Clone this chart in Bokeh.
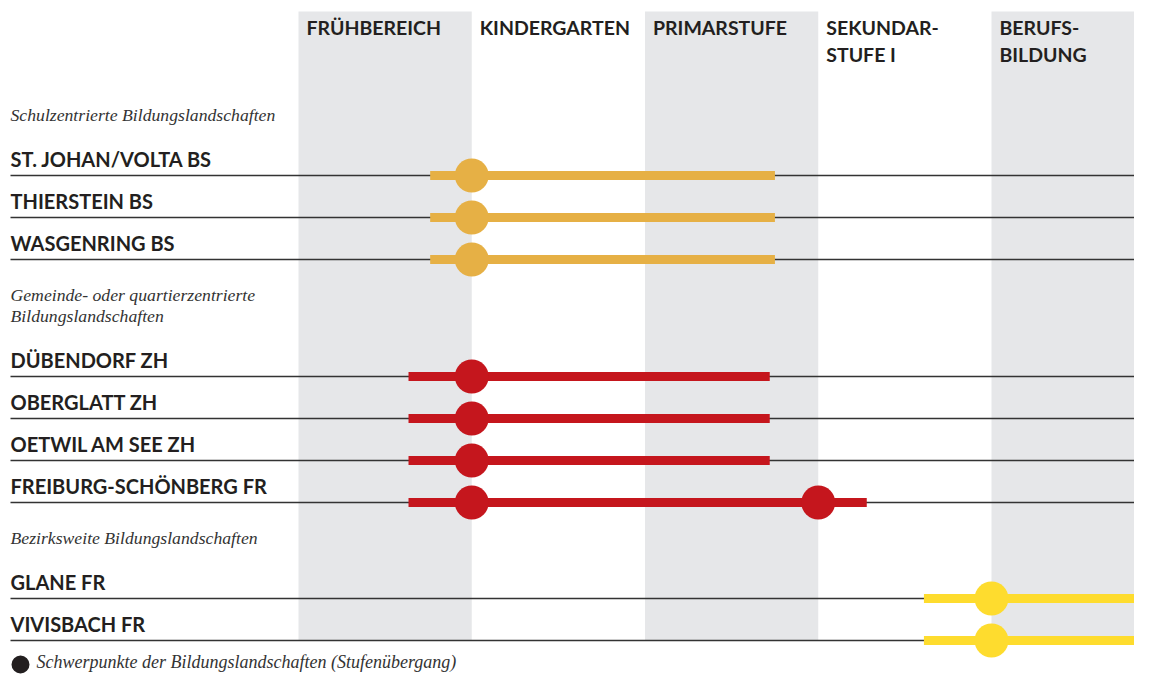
from bokeh.plotting import figure
from bokeh.models import Range1d
from bokeh.core.properties import value
from bokeh.embed import file_html
from bokeh.resources import INLINE

# ---------------- data ----------------
stage_line1 = ["FRÜHBEREICH", "KINDERGARTEN", "PRIMARSTUFE", "SEKUNDAR-", "BERUFS-"]
stage_line2 = ["", "", "", "STUFE I", "BILDUNG"]

group_titles = [
    ["Schulzentrierte Bildungslandschaften"],
    ["Gemeinde- oder quartierzentrierte", "Bildungslandschaften"],
    ["Bezirksweite Bildungslandschaften"],
]
row_names = ["ST. JOHAN/VOLTA BS", "THIERSTEIN BS", "WASGENRING BS",
             "DÜBENDORF ZH", "OBERGLATT ZH", "OETWIL AM SEE ZH", "FREIBURG-SCHÖNBERG FR",
             "GLANE FR", "VIVISBACH FR"]
row_group = [0, 0, 0, 1, 1, 1, 1, 2, 2]
# extent of each landscape along the stages (0 = start of Frühbereich, 1 = start of Kindergarten ...)
row_start = [0.76, 0.76, 0.76, 0.635, 0.635, 0.635, 0.635, 3.61, 3.61]
row_end = [2.75, 2.75, 2.75, 2.72, 2.72, 2.72, 3.28, 4.88, 4.88]
# focal points (stage transitions)
focus_row = [0, 1, 2, 3, 4, 5, 6, 6, 7, 8]
focus_x = [1.0, 1.0, 1.0, 1.0, 1.0, 1.0, 1.0, 3.0, 4.0, 4.0]
legend_text = "Schwerpunkte der Bildungslandschaften (Stufenübergang)"

group_colors = ["#E6B045", "#C5161D", "#FEDC2E"]

# ---------------- layout ----------------
W, H = 1134, 675
X0, S = 298.0, 173.25           # pixel of stage 0 and pixels per stage
TY = -8.5                       # text baseline correction


def px(xp):
    return (xp - X0) / S


p = figure(width=W, height=H, output_backend="svg", toolbar_location=None,
           x_range=Range1d(px(0), px(W)), y_range=Range1d(H, 0),
           min_border=0, outline_line_color=None)
p.axis.visible = False
p.grid.visible = False
p.background_fill_color = "white"
p.border_fill_color = "white"

# vertical positions
row_y = []
hdr_y = []
cur = 123.0
for g, titles in enumerate(group_titles):
    if g > 0:
        cur = row_y[-1] + 44
    ys = []
    for i, t in enumerate(titles):
        ys.append(cur + i * 21)
    hdr_y.append(ys)
    first = ys[-1] + 52
    n = sum(1 for rg in row_group if rg == g)
    for k in range(n):
        row_y.append(first + k * 42)

band_top, band_bot = 11, row_y[-1]
# gray stage bands
for i in range(0, len(stage_line1), 2):
    p.quad(left=i, right=i + 1, top=band_top, bottom=band_bot,
           fill_color="#E6E7E9", line_color=None)

TXT = "#231F20"
SANS = value("Lato")
SERIF = value("Liberation Serif")

# stage headers
p.text(x=[i + 8 / S for i in range(len(stage_line1))], y=[35 + TY] * len(stage_line1), text=stage_line1,
       text_font=SANS, text_font_style="bold", text_font_size="19.5px",
       text_color=TXT, text_baseline="alphabetic", text_align="left")
p.text(x=[i + 8 / S for i in range(len(stage_line2))], y=[62 + TY] * len(stage_line2), text=stage_line2,
       text_font=SANS, text_font_style="bold", text_font_size="19.5px",
       text_color=TXT, text_baseline="alphabetic", text_align="left")

# group titles
gx, gy, gt = [], [], []
for titles, ys in zip(group_titles, hdr_y):
    for t, y in zip(titles, ys):
        gx.append(px(10)); gy.append(y + TY); gt.append(t)
p.text(x=gx, y=gy, text=gt, text_font=SERIF, text_font_style="italic",
       text_font_size="17.7px", text_color="#333333", text_baseline="alphabetic")

# row lines
p.segment(x0=[px(10)] * len(row_y), x1=[px(1150)] * len(row_y), y0=row_y, y1=row_y,
          line_color="#333333", line_width=1.3)

# row labels
p.text(x=[px(10)] * len(row_names), y=[y - 8.5 + TY for y in row_y], text=row_names,
       text_font=SANS, text_font_style="bold", text_font_size="20px",
       text_color=TXT, text_baseline="alphabetic")

# ranges
cols = [group_colors[g] for g in row_group]
p.segment(x0=row_start, x1=row_end, y0=row_y, y1=row_y, line_color=cols,
          line_width=9, line_cap="butt")

# focus dots
p.scatter(x=focus_x, y=[row_y[r] for r in focus_row],
          fill_color=[cols[r] for r in focus_row], line_color=None, size=34)

# legend
p.scatter(x=[px(20)], y=[664], size=18, fill_color="#231F20", line_color=None)
p.text(x=[px(36)], y=[670 + TY], text=[legend_text], text_font=SERIF, text_font_style="italic",
       text_font_size="18px", text_color="#333333", text_baseline="alphabetic")

open("out.html", "w").write(file_html(p, INLINE))
